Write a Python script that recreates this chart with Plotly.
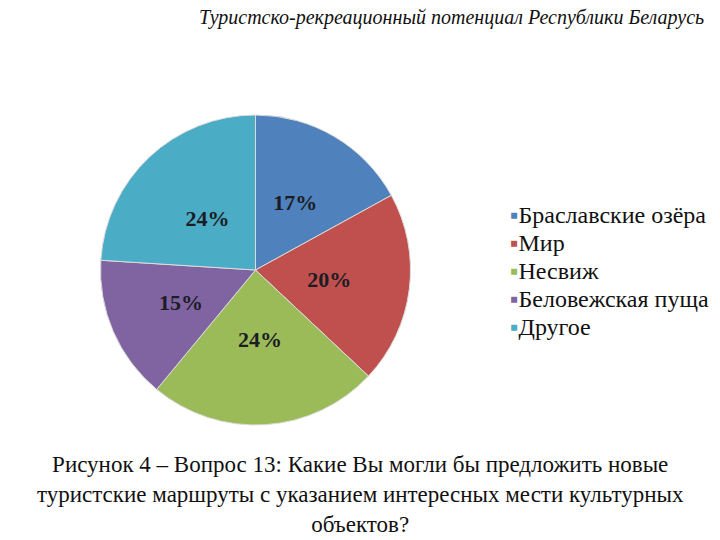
import plotly.graph_objects as go

labels = ["Браславские озёра", "Мир", "Несвиж", "Беловежская пуща", "Другое"]
values = [17, 20, 24, 15, 24]
colors = ["#4F81BD", "#C0504D", "#9BBB59", "#8064A2", "#4BACC6"]

W, H = 720, 540
cx, cy, r = 255.5, 270, 155
r_lab = 118  # inner invisible pie used to place percentage labels nearer the centre
SERIF = "Liberation Serif, Times New Roman, serif"


def dom(rad):
    return dict(x=[(cx - rad) / W, (cx + rad) / W], y=[1 - (cy + rad) / H, 1 - (cy - rad) / H])


fig = go.Figure()
fig.add_trace(go.Pie(
    labels=labels, values=values, sort=False, direction="clockwise", rotation=0,
    marker=dict(colors=colors, line=dict(color="#dcdcdc", width=1)),
    textinfo="none", domain=dom(r), hoverinfo="skip", showlegend=False,
))
fig.add_trace(go.Pie(
    labels=labels, values=values, sort=False, direction="clockwise", rotation=0,
    marker=dict(colors=["rgba(0,0,0,0)"] * len(values), line=dict(width=0)),
    texttemplate="%{percent:.0%}", textposition="inside", insidetextorientation="horizontal",
    textfont=dict(family=SERIF, size=22, color="#1c1c24", weight="bold"),
    domain=dom(r_lab), hoverinfo="skip", showlegend=False,
))

annotations = [
    dict(text="<i>Туристско-рекреационный потенциал Республики Беларусь</i>",
         x=706 / W, y=1 - 18 / H, xref="paper", yref="paper", xanchor="right", yanchor="middle",
         showarrow=False, font=dict(family=SERIF, size=20, color="#111")),
    dict(text="Рисунок 4 – Вопрос 13: Какие Вы могли бы предложить новые<br>"
              "туристские маршруты с указанием интересных мести культурных<br>объектов?",
         x=0.5, y=1 - 494 / H, xref="paper", yref="paper", xanchor="center", yanchor="middle",
         showarrow=False, align="center",
         font=dict(family=SERIF, size=23, color="#111")),
]
for i, (lab, col) in enumerate(zip(labels, colors)):
    annotations.append(dict(
        text=f"<span style='color:{col}'>▪</span>{lab}",
        x=508 / W, y=1 - (215 + 28 * i) / H, xref="paper", yref="paper",
        xanchor="left", yanchor="middle", showarrow=False,
        font=dict(family=SERIF, size=24, color="#111"),
    ))

fig.update_layout(
    width=W, height=H, margin=dict(l=0, r=0, t=0, b=0),
    paper_bgcolor="white", plot_bgcolor="white", showlegend=False,
    annotations=annotations,
)

fig.write_html("out.html")
